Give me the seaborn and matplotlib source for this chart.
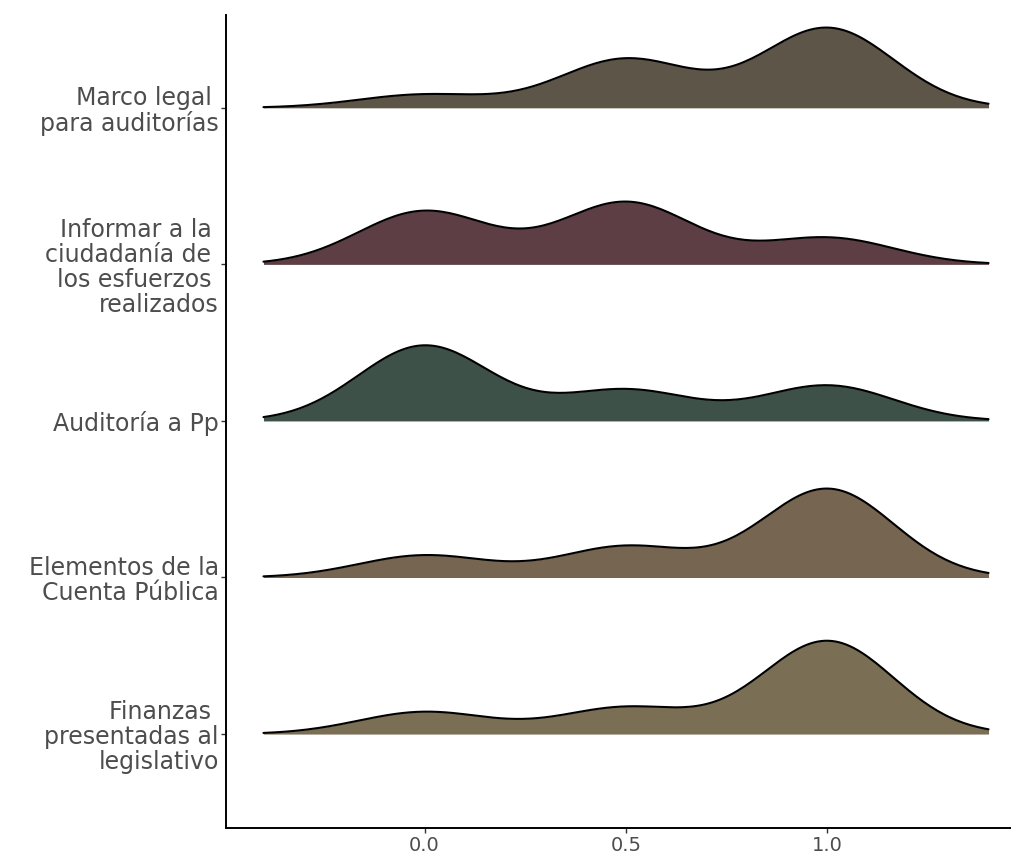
import numpy as np
import matplotlib
matplotlib.use("Agg")
import matplotlib.pyplot as plt
import matplotlib.transforms as mtransforms
import seaborn as sns

# categories from bottom to top, as they sit on the y axis
categories = [
    "Finanzas \npresentadas al\nlegislativo",
    "Elementos de la\nCuenta Pública",
    "Auditoría a Pp",
    "Informar a la \nciudadanía de \nlos esfuerzos \nrealizados",
    "Marco legal \npara auditorías",
]
# possible scores and number of answers per score
scores = [0.0, 0.5, 1.0]
counts_finanzas = [5, 6, 21]
counts_elementos = [5, 7, 20]
counts_auditoria = [17, 7, 8]
counts_informar = [12, 14, 6]
counts_marco = [3, 11, 18]
all_counts = [counts_finanzas, counts_elementos, counts_auditoria,
              counts_informar, counts_marco]

colors = ["#7a6f55", "#766550", "#3e5148", "#5c3e44", "#5d5548"]
xticks = [0.0, 0.5, 1.0]
xtick_labels = ["0.0", "0.5", "1.0"]

BW = 0.164        # joint bandwidth
EXT = 0.4         # how far the curves go past the data
HEIGHT = 0.596    # tallest ridge, in row units

sns.set_theme(style="ticks")
plt.rcParams["font.family"] = ["DejaVu Sans"]

fig = plt.figure(figsize=(10.11, 8.55), dpi=100)
ax = fig.add_axes([226 / 1011, 1 - 828 / 855, 800 / 1011, (828 - 14.5) / 855])

fills, lines = [], []
for counts, col in zip(all_counts, colors):
    vals = np.repeat(scores, counts)
    bw_factor = BW / np.std(vals, ddof=1)
    sns.kdeplot(x=vals, bw_method=bw_factor, cut=EXT / BW, fill=True,
                color=col, alpha=1, linewidth=0, ax=ax)
    fills.append(ax.collections[-1])
    sns.kdeplot(x=vals, bw_method=bw_factor, cut=EXT / BW,
                color="black", linewidth=1.5, ax=ax)
    lines.append(ax.lines[-1])

# ridgeline: scale all densities together and lift each one onto its row
dmax = max(ln.get_ydata().max() for ln in lines)
k = HEIGHT / dmax
for i, (fl, ln) in enumerate(zip(fills, lines)):
    tr = mtransforms.Affine2D().scale(1, k).translate(0, i + 1) + ax.transData
    fl.set_transform(tr)
    ln.set_transform(tr)

ax.set_xlim(-0.493, 1.493)
ax.set_ylim(0.4, 5 + HEIGHT)
ax.set_yticks(range(1, len(categories) + 1), categories)
ax.set_xticks(xticks, xtick_labels)
ax.set_xlabel("")
ax.set_ylabel("")

sns.despine(ax=ax)
for side in ["left", "bottom"]:
    ax.spines[side].set_color("black")
    ax.spines[side].set_linewidth(1.4)
ax.tick_params(axis="both", length=3.6, width=1.0, color="#333333",
               labelcolor="#4d4d4d")
ax.tick_params(axis="y", labelsize=17, pad=1.5)
ax.tick_params(axis="x", labelsize=14, pad=2)
for lab in ax.get_yticklabels():
    lab.set_linespacing(1.05)

fig.savefig("out.png", dpi=100)
